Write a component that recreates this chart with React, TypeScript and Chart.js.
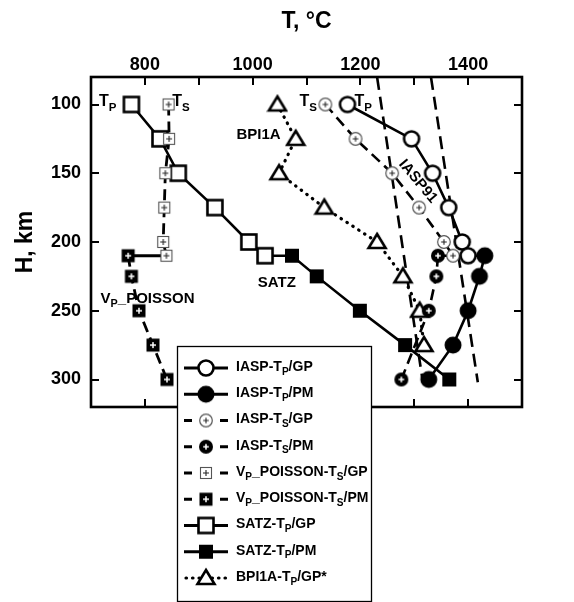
import React, { useEffect, useRef } from "react";
import { Chart, registerables } from "chart.js";

Chart.register(...registerables);

// ---------- DATA (T in °C, H in km) ----------
const H_IASP_TP_GP = [100, 125, 150, 175, 200, 210];
const T_IASP_TP_GP = [1176, 1295, 1334, 1364, 1389, 1400];

const H_IASP_TP_PM = [210, 225, 250, 275, 300];
const T_IASP_TP_PM = [1431, 1421, 1400, 1372, 1327];

const H_IASP_TS_GP = [100, 125, 150, 175, 200, 210];
const T_IASP_TS_GP = [1135, 1191, 1259, 1309, 1355, 1372];

const H_IASP_TS_PM = [210, 225, 250, 300];
const T_IASP_TS_PM = [1344, 1341, 1327, 1276];

const H_VP_TS_GP = [100, 125, 150, 175, 200, 210];
const T_VP_TS_GP = [844, 845, 838, 836, 834, 840];

const H_VP_TS_PM = [210, 225, 250, 275, 300];
const T_VP_TS_PM = [769, 775, 789, 815, 841];

const H_SATZ_TP_GP = [100, 125, 150, 175, 200, 210];
const T_SATZ_TP_GP = [775, 828, 862, 930, 993, 1023];

const H_SATZ_TP_PM = [210, 225, 250, 275, 300];
const T_SATZ_TP_PM = [1073, 1119, 1199, 1283, 1365];

const H_BPI1A = [100, 125, 150, 175, 200, 225, 250, 275];
const T_BPI1A = [1046, 1080, 1049, 1133, 1231, 1279, 1310, 1318];

// straight dashed reference lines (end points)
const H_REF = [80, 302];
const T_REF_1 = [1231, 1316];
const T_REF_2 = [1331, 1418];

const X_TICKS = [800, 900, 1000, 1100, 1200, 1300, 1400];
const Y_TICKS = [100, 150, 200, 250, 300];

const LEGEND_LABELS = [
  "IASP-T{P}/GP",
  "IASP-T{P}/PM",
  "IASP-T{S}/GP",
  "IASP-T{S}/PM",
  "V{P}_POISSON-T{S}/GP",
  "V{P}_POISSON-T{S}/PM",
  "SATZ-T{P}/GP",
  "SATZ-T{P}/PM",
  "BPI1A-T{P}/GP*",
];

// text annotations placed at (T, H)
const NOTE_TEXT = ["T{P}", "T{S}", "BPI1A", "T{S}", "T{P}", "SATZ", "V{P}_POISSON", "IASP91"];
const NOTE_T = [715, 851, 1011, 1087, 1189, 1045, 805, 1307];
const NOTE_H = [98, 98, 122, 98, 98, 230, 241, 156];

const FONT = '"Liberation Sans", Arial, Helvetica, sans-serif';

function pts(T: number[], H: number[]) {
  return T.map((t, i) => ({ x: t, y: H[i] }));
}

// ---------- markers ----------
function makeMarker(kind: string): HTMLCanvasElement {
  const s = 22;
  const c = document.createElement("canvas");
  c.width = s;
  c.height = s;
  const g = c.getContext("2d")!;
  const m = s / 2;
  const plus = (color: string, arm: number, lw: number) => {
    g.strokeStyle = color;
    g.lineWidth = lw;
    g.beginPath();
    g.moveTo(m - arm, m);
    g.lineTo(m + arm, m);
    g.moveTo(m, m - arm);
    g.lineTo(m, m + arm);
    g.stroke();
  };
  switch (kind) {
    case "circleOpen":
      g.beginPath();
      g.arc(m, m, 7.5, 0, Math.PI * 2);
      g.fillStyle = "#fff";
      g.fill();
      g.lineWidth = 2.6;
      g.strokeStyle = "#000";
      g.stroke();
      break;
    case "circleFilled":
      g.beginPath();
      g.arc(m, m, 8.5, 0, Math.PI * 2);
      g.fillStyle = "#000";
      g.fill();
      break;
    case "circlePlusGray":
      g.beginPath();
      g.arc(m, m, 6.3, 0, Math.PI * 2);
      g.fillStyle = "#fff";
      g.fill();
      g.lineWidth = 1.2;
      g.strokeStyle = "#555";
      g.stroke();
      plus("#222", 2.8, 1.1);
      break;
    case "circlePlusBlack":
      g.beginPath();
      g.arc(m, m, 7, 0, Math.PI * 2);
      g.fillStyle = "#000";
      g.fill();
      plus("#fff", 2.8, 1.6);
      break;
    case "squarePlusGray":
      g.fillStyle = "#fff";
      g.fillRect(m - 5.5, m - 5.5, 11, 11);
      g.lineWidth = 1.1;
      g.strokeStyle = "#555";
      g.strokeRect(m - 5.5, m - 5.5, 11, 11);
      plus("#222", 3, 1.1);
      break;
    case "squarePlusBlack":
      g.fillStyle = "#000";
      g.fillRect(m - 6.5, m - 6.5, 13, 13);
      plus("#fff", 3, 1.5);
      break;
    case "squareOpen":
      g.fillStyle = "#fff";
      g.fillRect(m - 7.5, m - 7.5, 15, 15);
      g.lineWidth = 2.6;
      g.strokeStyle = "#000";
      g.strokeRect(m - 7.5, m - 7.5, 15, 15);
      break;
    case "squareFilled":
      g.fillStyle = "#000";
      g.fillRect(m - 7, m - 7, 14, 14);
      break;
    case "triangleOpen":
      g.beginPath();
      g.moveTo(m, m - 8);
      g.lineTo(m + 8.5, m + 6);
      g.lineTo(m - 8.5, m + 6);
      g.closePath();
      g.fillStyle = "#fff";
      g.fill();
      g.lineWidth = 2.6;
      g.lineJoin = "miter";
      g.strokeStyle = "#000";
      g.stroke();
      break;
  }
  return c;
}

// ---------- rich text with subscripts ----------
function parseRich(s: string) {
  const parts: { t: string; sub: boolean }[] = [];
  const re = /\{([^}]*)\}/g;
  let last = 0;
  let m: RegExpExecArray | null;
  while ((m = re.exec(s))) {
    if (m.index > last) parts.push({ t: s.slice(last, m.index), sub: false });
    parts.push({ t: m[1], sub: true });
    last = re.lastIndex;
  }
  if (last < s.length) parts.push({ t: s.slice(last), sub: false });
  return parts;
}

function drawRich(ctx: CanvasRenderingContext2D, s: string, x: number, y: number, size: number, align: string) {
  const parts = parseRich(s);
  const f = (sz: number) => `bold ${sz}px ${FONT}`;
  let w = 0;
  for (const p of parts) {
    ctx.font = f(p.sub ? size * 0.72 : size);
    w += ctx.measureText(p.t).width;
  }
  let cx = align === "center" ? x - w / 2 : align === "right" ? x - w : x;
  ctx.textBaseline = "middle";
  ctx.textAlign = "left";
  ctx.fillStyle = "#000";
  for (const p of parts) {
    ctx.font = f(p.sub ? size * 0.72 : size);
    ctx.fillText(p.t, cx, p.sub ? y + size * 0.35 : y);
    cx += ctx.measureText(p.t).width;
  }
}

export default function App() {
  const ref = useRef<HTMLCanvasElement | null>(null);

  useEffect(() => {
    if (!ref.current) return;

    const M = {
      circleOpen: makeMarker("circleOpen"),
      circleFilled: makeMarker("circleFilled"),
      circlePlusGray: makeMarker("circlePlusGray"),
      circlePlusBlack: makeMarker("circlePlusBlack"),
      squarePlusGray: makeMarker("squarePlusGray"),
      squarePlusBlack: makeMarker("squarePlusBlack"),
      squareOpen: makeMarker("squareOpen"),
      squareFilled: makeMarker("squareFilled"),
      triangleOpen: makeMarker("triangleOpen"),
    };

    const DASH = [11, 6];
    const DOT = [0.5, 6.5];

    const last = (T: number[], H: number[]) => ({ x: T[T.length - 1], y: H[H.length - 1] });
    // connector: first point (end of the GP series) has no marker, first segment solid
    const withConn = (start: { x: number; y: number }, T: number[], H: number[]) => [start, ...pts(T, H)];

    const series: any[] = [
      { label: LEGEND_LABELS[0], data: pts(T_IASP_TP_GP, H_IASP_TP_GP), marker: M.circleOpen, line: "solid", borderWidth: 2.6 },
      {
        label: LEGEND_LABELS[1],
        data: withConn(last(T_IASP_TP_GP, H_IASP_TP_GP), T_IASP_TP_PM, H_IASP_TP_PM),
        marker: M.circleFilled,
        line: "solid",
        conn: true,
        borderWidth: 2.6,
      },
      { label: LEGEND_LABELS[2], data: pts(T_IASP_TS_GP, H_IASP_TS_GP), marker: M.circlePlusGray, line: "dash", borderWidth: 2.6 },
      {
        label: LEGEND_LABELS[3],
        data: withConn(last(T_IASP_TS_GP, H_IASP_TS_GP), T_IASP_TS_PM, H_IASP_TS_PM),
        marker: M.circlePlusBlack,
        line: "dash",
        conn: true,
        borderWidth: 2.6,
      },
      { label: LEGEND_LABELS[4], data: pts(T_VP_TS_GP, H_VP_TS_GP), marker: M.squarePlusGray, line: "dash", borderWidth: 2.8 },
      {
        label: LEGEND_LABELS[5],
        data: withConn(last(T_VP_TS_GP, H_VP_TS_GP), T_VP_TS_PM, H_VP_TS_PM),
        marker: M.squarePlusBlack,
        line: "dash",
        conn: true,
        borderWidth: 2.8,
      },
      { label: LEGEND_LABELS[6], data: pts(T_SATZ_TP_GP, H_SATZ_TP_GP), marker: M.squareOpen, line: "solid", borderWidth: 2.6 },
      {
        label: LEGEND_LABELS[7],
        data: withConn(last(T_SATZ_TP_GP, H_SATZ_TP_GP), T_SATZ_TP_PM, H_SATZ_TP_PM),
        marker: M.squareFilled,
        line: "solid",
        conn: true,
        borderWidth: 2.6,
      },
      { label: LEGEND_LABELS[8], data: pts(T_BPI1A, H_BPI1A), marker: M.triangleOpen, line: "dot", borderWidth: 3.2 },
    ];

    const datasets: any[] = series.map((s) => ({
      label: s.label,
      data: s.data,
      showLine: true,
      borderColor: "#000",
      backgroundColor: "#000",
      borderWidth: s.borderWidth,
      borderCapStyle: s.line === "dot" ? "round" : "butt",
      borderDash: s.line === "dash" ? DASH : s.line === "dot" ? DOT : [],
      segment: {
        borderDash: (c: any) =>
          s.conn && c.p0DataIndex === 0 ? [] : s.line === "dash" ? DASH : s.line === "dot" ? DOT : [],
      },
      pointStyle: s.marker,
      pointRadius: (c: any) => (s.conn && c.dataIndex === 0 ? 0 : 8),
      pointHoverRadius: (c: any) => (s.conn && c.dataIndex === 0 ? 0 : 8),
      tension: 0,
      clip: false,
      _legend: { marker: s.marker, line: s.line },
    }));

    datasets.push(
      {
        label: "ref1",
        data: pts(T_REF_1, H_REF),
        showLine: true,
        borderColor: "#000",
        borderWidth: 2.6,
        borderDash: [13, 7],
        pointRadius: 0,
        pointHoverRadius: 0,
        clip: false,
      },
      {
        label: "ref2",
        data: pts(T_REF_2, H_REF),
        showLine: true,
        borderColor: "#000",
        borderWidth: 2.6,
        borderDash: [13, 7],
        pointRadius: 0,
        pointHoverRadius: 0,
        clip: false,
      }
    );

    const framePlugin = {
      id: "frame",
      beforeDatasetsDraw(chart: any) {
        const { ctx, chartArea } = chart;
        const { left, right, top, bottom } = chartArea;
        const xs = chart.scales.x;
        const ys = chart.scales.y;
        ctx.save();
        ctx.strokeStyle = "#000";
        ctx.lineWidth = 2.6;
        ctx.strokeRect(left, top, right - left, bottom - top);
        ctx.lineWidth = 2;
        ctx.beginPath();
        const tl = 8;
        for (const v of X_TICKS) {
          const px = Math.round(xs.getPixelForValue(v));
          ctx.moveTo(px, top);
          ctx.lineTo(px, top + tl);
          ctx.moveTo(px, bottom);
          ctx.lineTo(px, bottom - tl);
        }
        for (const v of Y_TICKS) {
          const py = Math.round(ys.getPixelForValue(v));
          ctx.moveTo(left, py);
          ctx.lineTo(left + tl, py);
          ctx.moveTo(right, py);
          ctx.lineTo(right - tl, py);
        }
        ctx.stroke();
        ctx.restore();
      },
    };

    const notesPlugin = {
      id: "notes",
      afterDatasetsDraw(chart: any) {
        const { ctx } = chart;
        const xs = chart.scales.x;
        const ys = chart.scales.y;
        ctx.save();
        NOTE_TEXT.forEach((t, i) => {
          const px = xs.getPixelForValue(NOTE_T[i]);
          const py = ys.getPixelForValue(NOTE_H[i]);
          if (t === "IASP91") {
            ctx.save();
            ctx.translate(px, py);
            ctx.rotate((50 * Math.PI) / 180);
            drawRich(ctx, t, 0, 0, 15, "center");
            ctx.restore();
          } else if (t === "BPI1A" || t === "SATZ" || t.startsWith("V{P}")) {
            drawRich(ctx, t, px, py, 15, "center");
          } else {
            drawRich(ctx, t, px, py, 16, "left");
          }
        });
        ctx.restore();
      },
    };

    const titlesPlugin = {
      id: "titles",
      afterDraw(chart: any) {
        const { ctx, chartArea } = chart;
        ctx.save();
        ctx.fillStyle = "#000";
        ctx.font = `bold 23px ${FONT}`;
        ctx.textAlign = "center";
        ctx.textBaseline = "middle";
        ctx.fillText("T, °C", (chartArea.left + chartArea.right) / 2, 22);
        ctx.translate(26, (chartArea.top + chartArea.bottom) / 2);
        ctx.rotate(-Math.PI / 2);
        ctx.fillText("H, km", 0, 0);
        ctx.restore();
      },
    };

    const legendPlugin = {
      id: "customLegend",
      afterDraw(chart: any) {
        const { ctx } = chart;
        const bx = 177,
          by = 346,
          bw = 194,
          bh = 255;
        ctx.save();
        ctx.fillStyle = "#fff";
        ctx.fillRect(bx, by, bw, bh);
        ctx.strokeStyle = "#000";
        ctx.lineWidth = 1.3;
        ctx.strokeRect(bx + 0.5, by + 0.5, bw, bh);
        const items = chart.data.datasets.filter((d: any) => d._legend);
        items.forEach((d: any, i: number) => {
          const y = by + 22 + i * 26.25;
          const x0 = bx + 7,
            x1 = bx + 51,
            xc = (x0 + x1) / 2;
          ctx.strokeStyle = "#000";
          const st = d._legend.line;
          ctx.beginPath();
          if (st === "solid") {
            ctx.lineWidth = 2.8;
            ctx.moveTo(x0, y);
            ctx.lineTo(x1, y);
          } else if (st === "dash") {
            ctx.lineWidth = 2.8;
            ctx.moveTo(x0, y);
            ctx.lineTo(x0 + 8, y);
            ctx.moveTo(x1 - 8, y);
            ctx.lineTo(x1, y);
          } else {
            ctx.lineWidth = 3.2;
            ctx.lineCap = "round";
            ctx.setLineDash([0.5, 6]);
            ctx.moveTo(x0 + 2, y);
            ctx.lineTo(x1, y);
          }
          ctx.stroke();
          ctx.setLineDash([]);
          ctx.lineCap = "butt";
          const mk = d._legend.marker as HTMLCanvasElement;
          ctx.drawImage(mk, xc - mk.width / 2, y - mk.height / 2);
          drawRich(ctx, d.label, bx + 59, y - 1, 14, "left");
        });
        ctx.restore();
      },
    };

    const chart = new Chart(ref.current, {
      type: "scatter",
      data: { datasets },
      options: {
        animation: false,
        responsive: false,
        events: [],
        layout: { padding: { left: 0, right: 52, top: 0, bottom: 195 } },
        plugins: {
          legend: { display: false },
          tooltip: { enabled: false },
        },
        scales: {
          x: {
            type: "linear",
            position: "top",
            min: 700,
            max: 1500,
            grid: { display: false, drawTicks: false },
            border: { display: false },
            afterBuildTicks: (s: any) => {
              s.ticks = X_TICKS.map((v) => ({ value: v }));
            },
            afterFit: (s: any) => {
              s.height = 77;
            },
            ticks: {
              autoSkip: false,
              maxRotation: 0,
              padding: 1,
              color: "#000",
              font: { family: FONT, size: 18, weight: "bold" },
              callback: (v: any) => (Number(v) % 200 === 0 ? String(v) : ""),
            },
          },
          y: {
            type: "linear",
            reverse: true,
            min: 80,
            max: 320,
            grid: { display: false, drawTicks: false },
            border: { display: false },
            afterBuildTicks: (s: any) => {
              s.ticks = Y_TICKS.map((v) => ({ value: v }));
            },
            afterFit: (s: any) => {
              s.width = 91;
            },
            ticks: {
              autoSkip: false,
              padding: 10,
              color: "#000",
              font: { family: FONT, size: 18, weight: "bold" },
              callback: (v: any) => String(v),
            },
          },
        },
      } as any,
      plugins: [framePlugin, notesPlugin, titlesPlugin, legendPlugin],
    });

    return () => chart.destroy();
  }, []);

  return (
    <div style={{ position: "absolute", left: 0, top: 0, width: 574, height: 602, background: "#fff" }}>
      <canvas ref={ref} width={574} height={602} style={{ display: "block" }} />
    </div>
  );
}
